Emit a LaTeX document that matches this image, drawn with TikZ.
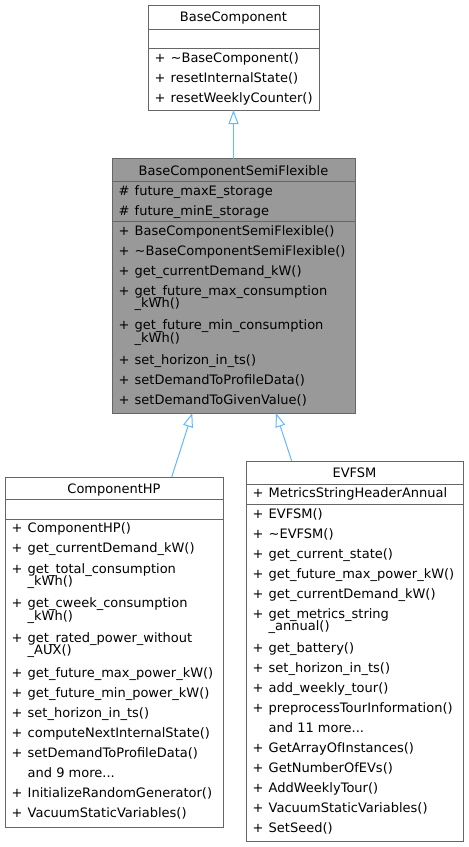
\documentclass[tikz,border=0pt]{standalone}
\usepackage{fontspec}
\setmainfont{DejaVu Sans}
\usetikzlibrary{arrows.meta}
\definecolor{bordergray}{HTML}{666666}
\definecolor{semifill}{HTML}{999999}
\definecolor{inhblue}{HTML}{63B8FF}
\newcommand\umlrow[5]{\node[mem] (#1) at (#2,#3) {\makebox[16pt][l]{#4}#5};}
\begin{document}
\begin{tikzpicture}[x=1pt,y=-1pt,
  box/.style={draw=bordergray, line width=1pt, rectangle, anchor=north west, inner sep=0pt, outer sep=0pt},
  sepline/.style={draw=bordergray, line width=1pt},
  title/.style={anchor=base, inner sep=0pt, font=\fontsize{13pt}{15pt}\selectfont},
  mem/.style={anchor=base west, inner sep=0pt, font=\fontsize{13pt}{15pt}\selectfont},
  inh/.style={draw=inhblue, line width=1pt, -{Triangle[open, length=14pt, width=10pt]}}]
\fill[white] (0,0) rectangle (469,847);
\useasboundingbox (0,0) rectangle (469,847);

% boxes
\node[box, minimum width=171pt, minimum height=105pt] (bc) at (148,5) {};
\node[box, fill=semifill, minimum width=243pt, minimum height=254.5pt] (semi) at (112,158.5) {};
\node[box, minimum width=218pt, minimum height=350pt] (hp) at (5,477) {};
\node[box, minimum width=217pt, minimum height=380pt] (ev) at (246,461) {};

% separators
\draw[sepline] (148,29) -- (319,29);
\draw[sepline] (148,48.5) -- (319,48.5);
\draw[sepline] (112,181.5) -- (355,181.5);
\draw[sepline] (112,221) -- (355,221);
\draw[sepline] (5,499.5) -- (223,499.5);
\draw[sepline] (5,519.5) -- (223,519.5);
\draw[sepline] (246,484) -- (463,484);
\draw[sepline] (246,504) -- (463,504);

% titles
\node[title] (bct) at (233.5,21.7) {BaseComponent};
\node[title] (semit) at (233.5,175) {BaseComponentSemiFlexible};
\node[title] (hpt) at (114,493) {ComponentHP};
\node[title] (evt) at (354.5,477.7) {EVFSM};

% BaseComponent
\umlrow{bc1}{154.5}{62.3}{+}{\textasciitilde BaseComponent()}
\umlrow{bc2}{154.5}{82.3}{+}{resetInternalState()}
\umlrow{bc3}{154.5}{102.3}{+}{resetWeeklyCounter()}

% BaseComponentSemiFlexible
\umlrow{sa1}{118.5}{195}{\#}{future\_maxE\_storage}
\umlrow{sa2}{118.5}{215}{\#}{future\_minE\_storage}
\umlrow{sm1}{118.5}{235}{+}{BaseComponentSemiFlexible()}
\umlrow{sm2}{118.5}{255}{+}{\textasciitilde BaseComponentSemiFlexible()}
\umlrow{sm3}{118.5}{275}{+}{get\_currentDemand\_kW()}
\umlrow{sm4}{118.5}{295}{+}{get\_future\_max\_consumption}
\umlrow{sm4b}{118.5}{307.5}{}{\_kWh()}
\umlrow{sm5}{118.5}{329.5}{+}{get\_future\_min\_consumption}
\umlrow{sm5b}{118.5}{342}{}{\_kWh()}
\umlrow{sm6}{118.5}{364}{+}{set\_horizon\_in\_ts()}
\umlrow{sm7}{118.5}{384}{+}{setDemandToProfileData()}
\umlrow{sm8}{118.5}{404}{+}{setDemandToGivenValue()}

% ComponentHP
\umlrow{h1}{11.5}{532.5}{+}{ComponentHP()}
\umlrow{h2}{11.5}{552.5}{+}{get\_currentDemand\_kW()}
\umlrow{h3}{11.5}{573}{+}{get\_total\_consumption}
\umlrow{h3b}{11.5}{585.5}{}{\_kWh()}
\umlrow{h4}{11.5}{607.5}{+}{get\_cweek\_consumption}
\umlrow{h4b}{11.5}{620}{}{\_kWh()}
\umlrow{h5}{11.5}{642}{+}{get\_rated\_power\_without}
\umlrow{h5b}{11.5}{654.5}{}{\_AUX()}
\umlrow{h6}{11.5}{677}{+}{get\_future\_max\_power\_kW()}
\umlrow{h7}{11.5}{697}{+}{get\_future\_min\_power\_kW()}
\umlrow{h8}{11.5}{717}{+}{set\_horizon\_in\_ts()}
\umlrow{h9}{11.5}{737}{+}{computeNextInternalState()}
\umlrow{h10}{11.5}{757}{+}{setDemandToProfileData()}
\umlrow{h11}{11.5}{777}{}{and 9 more...}
\umlrow{h12}{11.5}{797}{+}{InitializeRandomGenerator()}
\umlrow{h13}{11.5}{817}{+}{VacuumStaticVariables()}

% EVFSM
\umlrow{ea1}{252.5}{497.5}{+}{MetricsStringHeaderAnnual}
\umlrow{e1}{252.5}{518}{+}{EVFSM()}
\umlrow{e2}{252.5}{538}{+}{\textasciitilde EVFSM()}
\umlrow{e3}{252.5}{558}{+}{get\_current\_state()}
\umlrow{e4}{252.5}{578}{+}{get\_future\_max\_power\_kW()}
\umlrow{e5}{252.5}{598}{+}{get\_currentDemand\_kW()}
\umlrow{e6}{252.5}{618}{+}{get\_metrics\_string}
\umlrow{e6b}{252.5}{630.5}{}{\_annual()}
\umlrow{e7}{252.5}{652.5}{+}{get\_battery()}
\umlrow{e8}{252.5}{672.5}{+}{set\_horizon\_in\_ts()}
\umlrow{e9}{252.5}{692.5}{+}{add\_weekly\_tour()}
\umlrow{e10}{252.5}{712.5}{+}{preprocessTourInformation()}
\umlrow{e11}{252.5}{732.5}{}{and 11 more...}
\umlrow{e12}{252.5}{752.5}{+}{GetArrayOfInstances()}
\umlrow{e13}{252.5}{772.5}{+}{GetNumberOfEVs()}
\umlrow{e14}{252.5}{792.5}{+}{AddWeeklyTour()}
\umlrow{e15}{252.5}{812.5}{+}{VacuumStaticVariables()}
\umlrow{e16}{252.5}{832.5}{+}{SetSeed()}

% inheritance
\draw[inh] (semi.north) -- (bc.south);
\draw[inh] ([xshift=57.7pt]hp.north) -- ([xshift=-41.2pt]semi.south);
\draw[inh] ([xshift=-62.8pt]ev.north) -- ([xshift=42.5pt]semi.south);
\end{tikzpicture}
\end{document}
